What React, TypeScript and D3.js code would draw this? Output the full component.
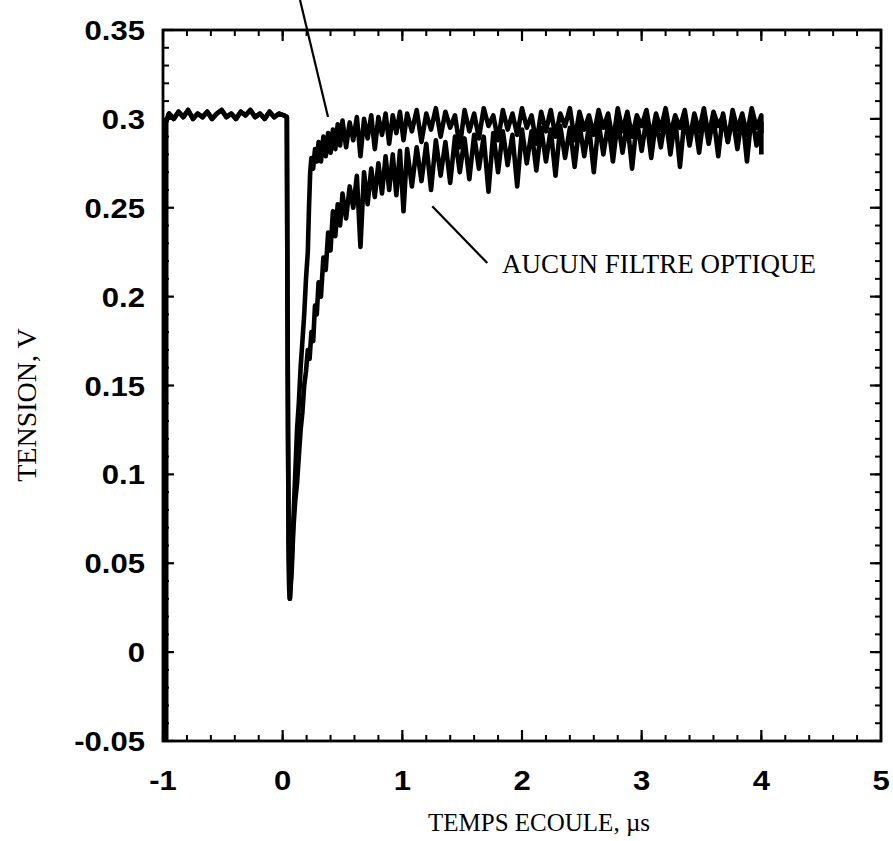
import React from 'react';
import * as d3 from 'd3';

const W = 893;
const H = 841;

const xDomain: [number, number] = [-1, 5];
const yDomain: [number, number] = [-0.05, 0.35];
const xTickValues = [-1, 0, 1, 2, 3, 4, 5];
const xTickLabels = ['-1', '0', '1', '2', '3', '4', '5'];
const yTickValues = [-0.05, 0, 0.05, 0.1, 0.15, 0.2, 0.25, 0.3, 0.35];
const yTickLabels = ['-0.05', '0', '0.05', '0.1', '0.15', '0.2', '0.25', '0.3', '0.35'];

const xTitle = 'TEMPS ECOULE, µs';
const yTitle = 'TENSION, V';

// shared pre-trigger level and drop
const preTrigger: [number, number][] = [
  [-0.975, -0.05], [-0.975, 0.298], [-0.95, 0.303], [-0.91, 0.300], [-0.87, 0.304], [-0.83, 0.301],
  [-0.79, 0.305], [-0.75, 0.300], [-0.71, 0.303], [-0.67, 0.301], [-0.63, 0.304], [-0.59, 0.300],
  [-0.55, 0.303], [-0.51, 0.305], [-0.47, 0.301], [-0.43, 0.303], [-0.39, 0.300], [-0.35, 0.304],
  [-0.31, 0.302], [-0.27, 0.305], [-0.23, 0.301], [-0.19, 0.303], [-0.15, 0.300], [-0.11, 0.304],
  [-0.07, 0.301], [-0.03, 0.303], [0.01, 0.302], [0.035, 0.301], [0.04, 0.2], [0.045, 0.12],
  [0.05, 0.06], [0.055, 0.035], [0.06, 0.03],
];

// with optical filter (fast recovery)
const filtreCurve: [number, number][] = [
  [0.075, 0.05], [0.09, 0.075], [0.105, 0.10], [0.12, 0.125], [0.135, 0.14], [0.15, 0.16],
  [0.165, 0.175], [0.18, 0.19], [0.195, 0.21], [0.21, 0.225], [0.22, 0.25], [0.23, 0.27],
  [0.24, 0.278], [0.255, 0.272], [0.27, 0.283], [0.285, 0.276], [0.30, 0.287], [0.32, 0.276],
  [0.34, 0.29], [0.36, 0.279], [0.38, 0.292], [0.40, 0.281], [0.42, 0.294], [0.44, 0.283],
  [0.46, 0.297], [0.48, 0.285], [0.50, 0.299], [0.53, 0.284], [0.56, 0.298], [0.59, 0.288],
  [0.62, 0.301], [0.65, 0.279], [0.68, 0.300], [0.71, 0.289], [0.74, 0.302], [0.77, 0.283],
  [0.80, 0.301], [0.83, 0.291], [0.86, 0.303], [0.89, 0.286], [0.92, 0.302], [0.95, 0.292],
  [0.98, 0.304], [1.01, 0.288], [1.04, 0.303], [1.08, 0.293], [1.12, 0.305], [1.16, 0.287],
  [1.20, 0.303], [1.24, 0.294], [1.28, 0.306], [1.32, 0.290], [1.36, 0.304], [1.40, 0.295],
  [1.44, 0.302], [1.48, 0.284], [1.52, 0.305], [1.56, 0.293], [1.60, 0.303], [1.64, 0.289],
  [1.68, 0.306], [1.72, 0.296], [1.76, 0.302], [1.80, 0.288], [1.84, 0.305], [1.88, 0.294],
  [1.92, 0.303], [1.96, 0.291], [2.00, 0.306], [2.04, 0.295], [2.08, 0.302], [2.12, 0.286],
  [2.16, 0.304], [2.20, 0.293], [2.24, 0.305], [2.28, 0.290], [2.32, 0.303], [2.36, 0.296],
  [2.40, 0.306], [2.44, 0.288], [2.48, 0.304], [2.52, 0.294], [2.56, 0.302], [2.60, 0.291],
  [2.64, 0.305], [2.68, 0.295], [2.72, 0.303], [2.76, 0.287], [2.80, 0.306], [2.84, 0.293],
  [2.88, 0.304], [2.92, 0.290], [2.96, 0.302], [3.00, 0.296], [3.04, 0.305], [3.08, 0.289],
  [3.12, 0.303], [3.16, 0.294], [3.20, 0.306], [3.24, 0.291], [3.28, 0.302], [3.32, 0.295],
  [3.36, 0.305], [3.40, 0.288], [3.44, 0.303], [3.48, 0.293], [3.52, 0.306], [3.56, 0.290],
  [3.60, 0.304], [3.64, 0.296], [3.68, 0.302], [3.72, 0.287], [3.76, 0.305], [3.80, 0.294],
  [3.84, 0.303], [3.88, 0.291], [3.92, 0.306], [3.96, 0.295], [4.00, 0.302], [4.00, 0.292],
];

// no optical filter (slow recovery)
const aucunCurve: [number, number][] = [
  [0.075, 0.045], [0.09, 0.07], [0.105, 0.085], [0.12, 0.095], [0.135, 0.11], [0.15, 0.125],
  [0.165, 0.135], [0.18, 0.15], [0.195, 0.158], [0.21, 0.17], [0.225, 0.165], [0.24, 0.18],
  [0.255, 0.175], [0.27, 0.195], [0.285, 0.19], [0.30, 0.208], [0.32, 0.2], [0.34, 0.222],
  [0.36, 0.215], [0.38, 0.236], [0.40, 0.226], [0.42, 0.248], [0.44, 0.234], [0.46, 0.252],
  [0.48, 0.24], [0.50, 0.258], [0.53, 0.244], [0.56, 0.262], [0.59, 0.25], [0.62, 0.268],
  [0.65, 0.228], [0.68, 0.27], [0.71, 0.252], [0.74, 0.272], [0.77, 0.256], [0.80, 0.275],
  [0.83, 0.258], [0.86, 0.279], [0.89, 0.26], [0.92, 0.28], [0.95, 0.257], [0.98, 0.282],
  [1.01, 0.248], [1.04, 0.283], [1.08, 0.262], [1.12, 0.284], [1.16, 0.265], [1.20, 0.286],
  [1.24, 0.26], [1.28, 0.288], [1.32, 0.268], [1.36, 0.287], [1.40, 0.264], [1.44, 0.29],
  [1.48, 0.27], [1.52, 0.289], [1.56, 0.266], [1.60, 0.291], [1.64, 0.272], [1.68, 0.29],
  [1.72, 0.259], [1.76, 0.292], [1.80, 0.27], [1.84, 0.293], [1.88, 0.274], [1.92, 0.291],
  [1.96, 0.262], [2.00, 0.294], [2.04, 0.275], [2.08, 0.293], [2.12, 0.271], [2.16, 0.295],
  [2.20, 0.276], [2.24, 0.294], [2.28, 0.268], [2.32, 0.296], [2.36, 0.278], [2.40, 0.295],
  [2.44, 0.273], [2.48, 0.297], [2.52, 0.279], [2.56, 0.296], [2.60, 0.27], [2.64, 0.298],
  [2.68, 0.28], [2.72, 0.297], [2.76, 0.276], [2.80, 0.299], [2.84, 0.281], [2.88, 0.298],
  [2.92, 0.272], [2.96, 0.299], [3.00, 0.282], [3.04, 0.30], [3.08, 0.278], [3.12, 0.299],
  [3.16, 0.284], [3.20, 0.301], [3.24, 0.28], [3.28, 0.30], [3.32, 0.273], [3.36, 0.302],
  [3.40, 0.285], [3.44, 0.30], [3.48, 0.281], [3.52, 0.302], [3.56, 0.286], [3.60, 0.301],
  [3.64, 0.279], [3.68, 0.303], [3.72, 0.287], [3.76, 0.301], [3.80, 0.283], [3.84, 0.302],
  [3.88, 0.276], [3.92, 0.303], [3.96, 0.285], [4.00, 0.298], [4.00, 0.28],
];

const annotationText = 'AUCUN FILTRE OPTIQUE';
const annotationTextPos: [number, number] = [1.833, 0.2133];
const annotationLine: [number, number][] = [[1.25, 0.2508], [1.71, 0.2189]];
const topLeaderLine: [number, number][] = [[0.145, 0.3669], [0.379, 0.301]];

export default function App() {
  const x = d3.scaleLinear().domain(xDomain).range([163, 881]);
  const y = d3.scaleLinear().domain(yDomain).range([741, 30]);
  const line = d3.line<[number, number]>().x(d => x(d[0])).y(d => y(d[1]));

  const xMinor = x.ticks(30);
  const yMinor = y.ticks(40);

  const x0 = x.range()[0], x1 = x.range()[1];
  const yb = y.range()[0], yt = y.range()[1];
  const bold = { fontFamily: '"Liberation Sans", Arial, sans-serif', fontWeight: 700, fontSize: 27 } as const;
  const serif = { fontFamily: '"Liberation Serif", "Times New Roman", serif' } as const;

  return (
    <svg width={W} height={H} style={{ position: 'absolute', left: 0, top: 0, background: '#fff' }}>
      <rect x={0} y={0} width={W} height={H} fill="#fff" />
      {/* curves */}
      <path d={line([...preTrigger, ...aucunCurve]) || ''} fill="none" stroke="#000" strokeWidth={4.6} strokeLinejoin="round" />
      <path d={line([...preTrigger, ...filtreCurve]) || ''} fill="none" stroke="#000" strokeWidth={4.6} strokeLinejoin="round" />

      {/* frame */}
      <rect x={x0} y={yt} width={x1 - x0} height={yb - yt} fill="none" stroke="#000" strokeWidth={2.8} />

      {/* minor ticks */}
      {xMinor.map((v, i) => (
        <g key={'xm' + i}>
          <line x1={x(v)} x2={x(v)} y1={yb} y2={yb - 6} stroke="#000" strokeWidth={2} />
          <line x1={x(v)} x2={x(v)} y1={yt} y2={yt + 6} stroke="#000" strokeWidth={2} />
        </g>
      ))}
      {yMinor.map((v, i) => (
        <g key={'ym' + i}>
          <line x1={x0} x2={x0 + 6} y1={y(v)} y2={y(v)} stroke="#000" strokeWidth={2} />
          <line x1={x1} x2={x1 - 6} y1={y(v)} y2={y(v)} stroke="#000" strokeWidth={2} />
        </g>
      ))}
      {/* major ticks */}
      {xTickValues.map((v, i) => (
        <g key={'xM' + i}>
          <line x1={x(v)} x2={x(v)} y1={yb} y2={yb - 11} stroke="#000" strokeWidth={2.2} />
          <line x1={x(v)} x2={x(v)} y1={yt} y2={yt + 11} stroke="#000" strokeWidth={2.2} />
          <text x={0} y={0} transform={`translate(${x(v)},790) scale(1.15,1)`} textAnchor="middle" style={bold}>
            {xTickLabels[i]}
          </text>
        </g>
      ))}
      {yTickValues.map((v, i) => (
        <g key={'yM' + i}>
          <line x1={x0} x2={x0 + 11} y1={y(v)} y2={y(v)} stroke="#000" strokeWidth={2.2} />
          <line x1={x1} x2={x1 - 11} y1={y(v)} y2={y(v)} stroke="#000" strokeWidth={2.2} />
          <text x={0} y={0} transform={`translate(145,${y(v) + 10}) scale(1.15,1)`} textAnchor="end" style={bold}>
            {yTickLabels[i]}
          </text>
        </g>
      ))}

      {/* titles */}
      <text x={539} y={831} textAnchor="middle" style={{ ...serif, fontSize: 25 }}>{xTitle}</text>
      <text transform="translate(36,405) rotate(-90)" textAnchor="middle" style={{ ...serif, fontSize: 28 }}>{yTitle}</text>

      {/* annotations */}
      <path d={line(annotationLine) || ''} stroke="#000" strokeWidth={2.2} fill="none" />
      <path d={line(topLeaderLine) || ''} stroke="#000" strokeWidth={2.2} fill="none" />
      <text x={x(annotationTextPos[0])} y={y(annotationTextPos[1])} style={{ ...serif, fontSize: 27 }}>{annotationText}</text>
    </svg>
  );
}
